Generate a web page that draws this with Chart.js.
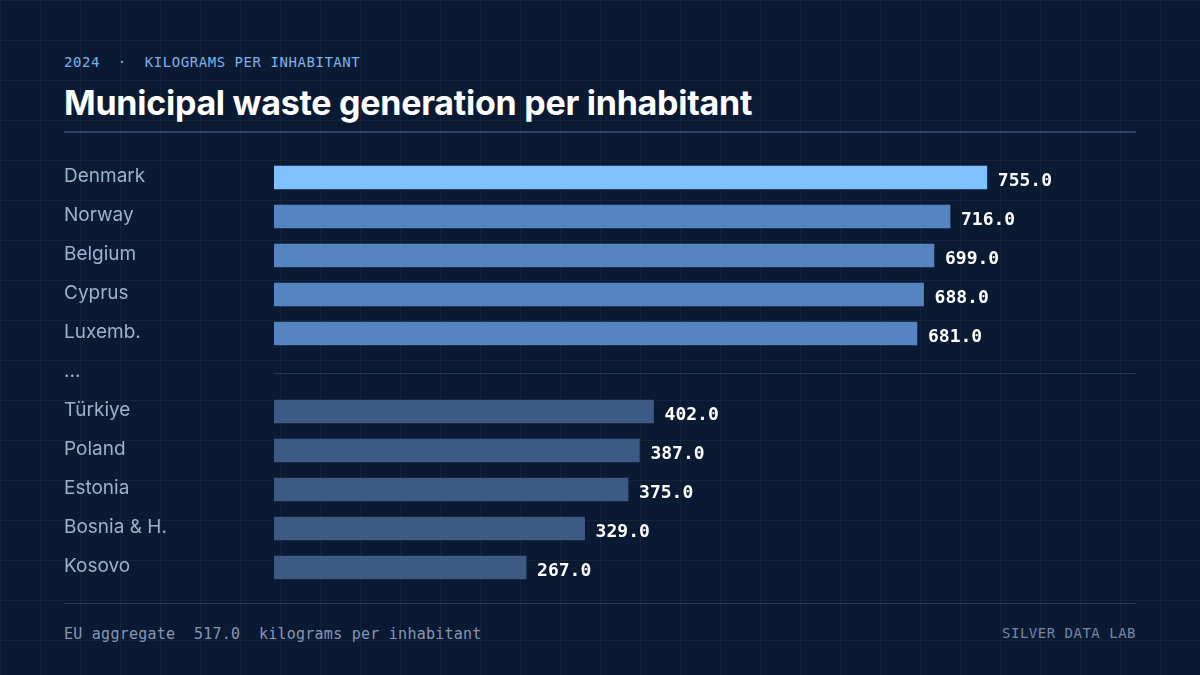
<!DOCTYPE html>
<html>
<head>
<meta charset="utf-8">
<script src="https://cdn.jsdelivr.net/npm/chart.js@4/dist/chart.umd.min.js"></script>
<style>
  html, body { margin: 0; padding: 0; }
  body {
    width: 1200px; height: 675px; overflow: hidden; position: relative;
    background-color: #0b1a33;
    background-image:
      linear-gradient(rgba(255,255,255,0.035) 1px, transparent 1px),
      linear-gradient(90deg, rgba(255,255,255,0.035) 1px, transparent 1px);
    background-size: 40px 40px;
  }
  .kicker {
    position: absolute; left: 64px; top: 54px;
    font: 14px "DejaVu Sans Mono", monospace; letter-spacing: 0.55px;
    color: #7db2e6; white-space: pre;
  }
  h1 {
    position: absolute; left: 64px; top: 83px; margin: 0;
    font: 700 34px Inter, sans-serif; letter-spacing: -0.26px;
    color: #ffffff; line-height: 40px;
  }
  .rule { position: absolute; left: 64px; width: 1072px; }
  .rule.top { top: 131px; height: 2px; background: #2c4570; }
  .rule.bottom { top: 603px; height: 1px; background: #263a5c; }
  .foot {
    position: absolute; top: 625px;
    font: 15px "DejaVu Sans Mono", monospace; letter-spacing: 0.25px;
    color: #8596b0; white-space: pre;
  }
  .foot.left { left: 64px; }
  .foot.right { right: 64px; color: #7587a3; letter-spacing: 0.5px; font-size: 14px; }
  #wrap { position: absolute; left: 64px; top: 150px; width: 1072px; height: 445px; }
</style>
</head>
<body>
<div class="kicker">2024  ·  KILOGRAMS PER INHABITANT</div>
<h1>Municipal waste generation per inhabitant</h1>
<div class="rule top"></div>
<div id="wrap"><canvas id="chart"></canvas></div>
<div class="rule bottom"></div>
<div class="foot left">EU aggregate  517.0  kilograms per inhabitant</div>
<div class="foot right">SILVER DATA LAB</div>
<script>
const countries = ['Denmark', 'Norway', 'Belgium', 'Cyprus', 'Luxemb.', '...', 'Türkiye', 'Poland', 'Estonia', 'Bosnia & H.', 'Kosovo'];
const wastePerInhabitant = [755, 716, 699, 688, 681, null, 402, 387, 375, 329, 267];
const barColors = ['#7fc1ff', '#5585c0', '#5585c0', '#5585c0', '#5585c0', '#000000', '#3c5a84', '#3c5a84', '#3c5a84', '#3c5a84', '#3c5a84'];
const gapIndex = 5;

const valueLabels = {
  id: 'valueLabels',
  afterDatasetsDraw(chart) {
    const ctx = chart.ctx;
    const meta = chart.getDatasetMeta(0);
    ctx.save();
    ctx.font = 'bold 18px "DejaVu Sans Mono", monospace';
    ctx.fillStyle = '#ffffff';
    ctx.textBaseline = 'middle';
    meta.data.forEach((bar, i) => {
      const v = wastePerInhabitant[i];
      if (v == null) return;
      ctx.fillText(v.toFixed(1), bar.x + 11, bar.y + 3.5);
    });
    // separator in the gap row
    const y = Math.round(chart.scales.y.getPixelForValue(gapIndex)) + 0.5;
    ctx.strokeStyle = '#22355a';
    ctx.lineWidth = 1;
    ctx.beginPath();
    ctx.moveTo(chart.chartArea.left, y);
    ctx.lineTo(chart.chartArea.right, y);
    ctx.stroke();
    ctx.restore();
  }
};

new Chart(document.getElementById('chart'), {
  type: 'bar',
  data: {
    labels: countries,
    datasets: [{
      data: wastePerInhabitant,
      backgroundColor: barColors,
      barThickness: 23,
      borderWidth: 0
    }]
  },
  options: {
    indexAxis: 'y',
    responsive: true,
    maintainAspectRatio: false,
    animation: false,
    layout: { padding: { top: 8, bottom: 8, left: 0, right: 0 } },
    plugins: { legend: { display: false }, tooltip: { enabled: false } },
    scales: {
      x: { display: false, min: 0, max: 913 },
      y: {
        grid: { display: false },
        border: { display: false },
        afterFit(scale) {
          scale.width = 210;
          scale.paddingTop = 0;
          scale.paddingBottom = 0;
        },
        ticks: {
          crossAlign: 'far',
          padding: 0,
          color: '#9db0cc',
          font: { family: 'Inter, sans-serif', size: 19 },
          labelOffset: -1
        }
      }
    }
  },
  plugins: [valueLabels]
});
</script>
</body>
</html>
